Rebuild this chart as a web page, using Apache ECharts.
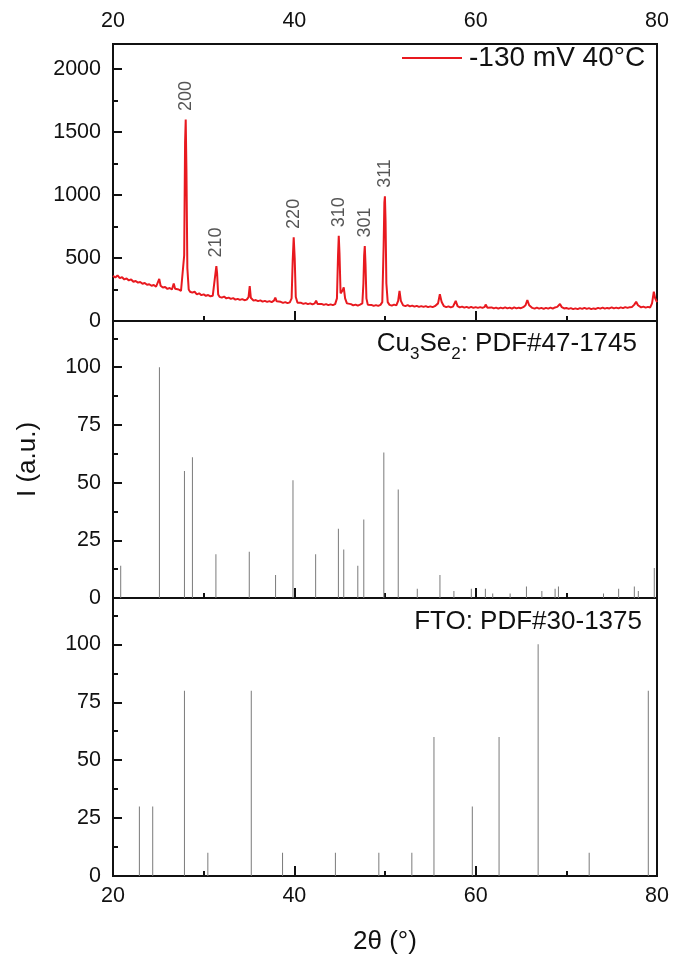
<!DOCTYPE html>
<html>
<head>
<meta charset="utf-8">
<script src="https://cdn.jsdelivr.net/npm/echarts@6/dist/echarts.min.js"></script>
<style>
  html, body { margin: 0; padding: 0; background: #fff; }
  #chart { width: 673px; height: 958px; }
</style>
</head>
<body>
<div id="chart"></div>
<script>
// Measured XRD scan of the film: [2θ (°), intensity (counts)]
const scanPattern = [
  [20.00,358],[20.25,345],[20.50,362],[20.75,340],[21.00,348],[21.25,330],[21.50,338],[21.75,322],
  [22.00,330],[22.25,312],[22.50,318],[22.75,305],[23.00,310],[23.25,296],[23.50,302],[23.75,288],
  [24.00,292],[24.25,280],[24.50,286],[24.75,272],[24.95,285],[25.10,335],[25.25,280],[25.50,266],
  [25.75,270],[26.00,255],[26.25,262],[26.50,250],[26.70,298],[26.85,256],[27.00,245],[27.25,250],
  [27.50,238],[27.70,242],[27.85,520],[27.95,1420],[28.02,1600],[28.10,1200],[28.20,420],[28.35,250],
  [28.50,232],[28.75,225],[29.00,232],[29.25,212],[29.50,220],[29.75,205],[30.00,212],[30.25,200],
  [30.50,206],[30.75,196],[31.00,200],[31.20,215],[31.32,390],[31.40,436],[31.48,380],[31.60,210],
  [31.75,192],[32.00,186],[32.25,194],[32.50,180],[32.75,186],[33.00,176],[33.25,182],[33.50,170],
  [33.75,176],[34.00,168],[34.25,174],[34.50,165],[34.75,170],[34.95,190],[35.08,278],[35.20,185],
  [35.50,162],[35.75,166],[36.00,158],[36.25,164],[36.50,154],[36.75,160],[37.00,152],[37.25,158],
  [37.50,150],[37.75,162],[37.90,185],[38.05,156],[38.25,148],[38.50,152],[38.75,144],[39.00,150],
  [39.25,142],[39.50,148],[39.70,180],[39.82,480],[39.93,664],[40.04,500],[40.16,190],[40.35,145],
  [40.50,138],[40.75,144],[41.00,136],[41.25,142],[41.50,134],[41.75,140],[42.00,132],[42.25,140],
  [42.40,162],[42.55,136],[42.75,130],[43.00,136],[43.25,128],[43.50,134],[43.75,126],[44.00,132],
  [44.25,126],[44.50,134],[44.70,180],[44.82,520],[44.90,677],[44.98,540],[45.10,220],[45.30,240],
  [45.45,268],[45.60,180],[45.80,140],[46.00,128],[46.25,134],[46.50,124],[46.75,130],[47.00,122],
  [47.25,130],[47.50,140],[47.62,300],[47.70,520],[47.77,595],[47.85,450],[47.95,180],[48.10,130],
  [48.25,122],[48.50,128],[48.75,120],[49.00,126],[49.25,120],[49.50,128],[49.70,150],[49.85,600],
  [49.93,940],[49.99,990],[50.06,800],[50.15,300],[50.30,150],[50.50,128],[50.75,122],[51.00,130],
  [51.25,124],[51.45,160],[51.60,240],[51.75,160],[52.00,124],[52.25,118],[52.50,126],[52.75,116],
  [53.00,122],[53.25,114],[53.50,120],[53.75,112],[54.00,118],[54.25,112],[54.50,118],[54.75,110],
  [55.00,116],[55.25,110],[55.50,118],[55.85,140],[56.05,212],[56.25,150],[56.50,118],[56.75,110],
  [57.00,116],[57.25,108],[57.50,114],[57.80,160],[58.00,118],[58.25,108],[58.50,114],[58.75,106],
  [59.00,112],[59.25,104],[59.50,112],[59.75,104],[60.00,110],[60.25,104],[60.50,110],[60.75,104],
  [61.00,112],[61.10,130],[61.30,106],[61.50,100],[61.75,108],[62.00,100],[62.25,106],[62.50,98],
  [62.75,106],[63.00,100],[63.25,108],[63.50,100],[63.75,106],[64.00,98],[64.25,108],[64.50,100],
  [64.75,106],[65.00,102],[65.25,110],[65.50,125],[65.70,167],[65.90,125],[66.25,104],[66.50,98],
  [66.75,106],[67.00,98],[67.25,104],[67.50,96],[67.75,104],[68.00,98],[68.25,106],[68.50,98],
  [68.75,108],[69.00,112],[69.30,135],[69.50,110],[69.75,100],[70.00,104],[70.25,96],[70.50,102],
  [70.75,94],[71.00,100],[71.25,94],[71.50,102],[71.75,96],[72.00,104],[72.25,96],[72.50,102],
  [72.75,94],[73.00,100],[73.25,96],[73.50,104],[73.75,98],[74.00,106],[74.25,98],[74.50,104],
  [74.75,100],[75.00,108],[75.25,100],[75.50,106],[75.75,100],[76.00,108],[76.25,102],[76.50,110],
  [76.75,104],[77.00,110],[77.25,112],[77.50,130],[77.70,153],[77.90,125],[78.25,108],[78.50,114],
  [78.75,106],[79.00,112],[79.25,108],[79.45,140],[79.65,233],[79.80,180],[80.00,150]
];

// Indexed reflections of the scan
const peakIndices = ['200', '210', '220', '310', '301', '311'];
const peakAngles  = [28.02, 31.40, 39.93, 44.90, 47.77, 49.99];
const peakCounts  = [1600, 436, 664, 677, 595, 990];

// Reference card Cu3Se2, PDF#47-1745: [2θ, relative intensity]
const cu3se2Card = [
  [20.85,14],[25.12,100],[27.88,55],[28.76,61],[31.35,19],[35.03,20],[37.93,10],[39.85,51],
  [42.35,19],[44.86,30],[45.45,21],[47.00,14],[47.66,34],[49.87,63],[51.46,47],[53.56,4],
  [56.06,10],[57.60,3],[59.52,4],[61.07,4],[61.88,2],[63.80,2],[65.60,5],[67.30,3],
  [68.76,4],[69.13,5],[74.10,2],[75.77,4],[77.50,5],[77.94,3],[79.70,13]
];

// Reference card FTO (SnO2), PDF#30-1375: [2θ, relative intensity]
const ftoCard = [
  [22.91,30],[24.38,30],[27.88,80],[30.46,10],[35.25,80],[38.70,10],[44.53,10],[49.32,10],
  [52.96,10],[55.40,60],[59.63,30],[62.58,60],[66.89,100],[72.52,10],[79.04,80]
];

// Axis tick values
const angleTicks = { min: 20, max: 80, step: 20 };
const countTicks = { min: 0, max: 2200, step: 500, minorStep: 250 };
const relTicks   = { min: 0, max: 120, step: 25, minorStep: 12.5 };

const FONT = 'Liberation Sans, Arial, Helvetica, sans-serif';
const INK = '#111';
const RED = '#e8191f';
const STICK = '#7a7a7a';
const plain = v => String(v);

const chart = echarts.init(document.getElementById('chart'), null, { renderer: 'canvas' });

const panelTops = [44, 321, 598];
const panelHeights = [277, 277, 278];

function frameGrid(i) {
  return { left: 113, right: 16, top: panelTops[i], height: panelHeights[i],
           show: true, borderColor: INK, borderWidth: 2, backgroundColor: 'transparent' };
}

function bottomAngleAxis(gridIndex, showLabels) {
  return {
    type: 'value', gridIndex, position: 'bottom',
    min: angleTicks.min, max: angleTicks.max, interval: angleTicks.step,
    axisLine: { show: true, lineStyle: { color: INK, width: 2 } },
    axisTick: { show: true, inside: true, length: 10, lineStyle: { color: INK, width: 2 } },
    minorTick: { show: true, splitNumber: 2, length: 5, lineStyle: { color: INK, width: 2 } },
    axisLabel: { show: showLabels, fontSize: 21.5, fontFamily: FONT, color: INK, margin: 9, formatter: plain },
    splitLine: { show: false }
  };
}

function majorAxis(gridIndex, t) {
  return {
    type: 'value', gridIndex, position: 'left',
    min: t.min, max: t.max, interval: t.step,
    axisLine: { show: true, lineStyle: { color: INK, width: 2 } },
    axisTick: { show: true, inside: true, length: 9, lineStyle: { color: INK, width: 2 } },
    axisLabel: { show: true, fontSize: 21.5, fontFamily: FONT, color: INK, margin: 12,
                 showMaxLabel: false, formatter: plain },
    splitLine: { show: false }
  };
}

function minorAxis(gridIndex, t) {
  return {
    type: 'value', gridIndex, position: 'left',
    min: t.min, max: t.max, interval: t.minorStep,
    axisLine: { show: false },
    axisTick: { show: true, inside: true, length: 5, lineStyle: { color: INK, width: 2 } },
    axisLabel: { show: false },
    splitLine: { show: false }
  };
}

const option = {
  animation: false,
  backgroundColor: '#fff',
  grid: [frameGrid(0), frameGrid(1), frameGrid(2)],
  xAxis: [
    bottomAngleAxis(0, false),
    {
      type: 'value', gridIndex: 0, position: 'top',
      min: angleTicks.min, max: angleTicks.max, interval: angleTicks.step,
      axisLine: { show: true, lineStyle: { color: INK, width: 2 } },
      axisTick: { show: false },
      axisLabel: { show: true, fontSize: 21.5, fontFamily: FONT, color: INK, margin: 12, formatter: plain },
      splitLine: { show: false }
    },
    bottomAngleAxis(1, false),
    Object.assign(bottomAngleAxis(2, true), {
      name: '2θ (°)', nameLocation: 'middle', nameGap: 53,
      nameTextStyle: { fontSize: 26, fontFamily: FONT, color: INK }
    })
  ],
  yAxis: [
    majorAxis(0, countTicks),
    minorAxis(0, countTicks),
    Object.assign(majorAxis(1, relTicks), {
      name: 'I (a.u.)', nameLocation: 'middle', nameGap: 72,
      nameTextStyle: { fontSize: 26, fontFamily: FONT, color: INK }
    }),
    minorAxis(1, relTicks),
    majorAxis(2, relTicks),
    minorAxis(2, relTicks)
  ],
  legend: {
    left: 402, top: 44, padding: 0,
    icon: 'rect', itemWidth: 60, itemHeight: 2, itemGap: 0,
    textStyle: { fontSize: 28, fontFamily: FONT, color: INK, padding: [0, 0, 0, 0] },
    data: ['-130 mV 40°C']
  },
  graphic: [
    {
      type: 'text', right: 36, top: 331,
      style: {
        text: '{a|Cu}{s|3}{a|Se}{s|2}{a|: PDF#47-1745}',
        fill: INK,
        rich: {
          a: { fontSize: 26, fontFamily: FONT, fill: INK, color: INK },
          s: { fontSize: 17, fontFamily: FONT, fill: INK, color: INK, padding: [20, 0, 0, 0] }
        }
      }
    },
    {
      type: 'text', right: 31, top: 609,
      style: { text: 'FTO: PDF#30-1375', fontSize: 26, fontFamily: FONT, fill: INK }
    }
  ],
  series: [
    {
      name: '-130 mV 40°C', type: 'line', xAxisIndex: 0, yAxisIndex: 0,
      data: scanPattern, showSymbol: false, symbol: 'none',
      lineStyle: { color: RED, width: 2 }, itemStyle: { color: RED },
      z: 3
    },
    {
      type: 'scatter', xAxisIndex: 0, yAxisIndex: 0,
      symbolSize: 1, itemStyle: { color: 'rgba(0,0,0,0)' }, silent: true,
      data: peakIndices.map((h, i) => ({ name: h, value: [peakAngles[i], peakCounts[i]] })),
      label: {
        show: true, position: 'top', distance: 8, rotate: 90,
        align: 'left', verticalAlign: 'middle',
        formatter: p => p.name,
        fontSize: 18, fontFamily: FONT, color: '#2a2a2a'
      },
      z: 4
    },
    {
      type: 'bar', xAxisIndex: 2, yAxisIndex: 2,
      data: cu3se2Card, barWidth: 1,
      itemStyle: { color: STICK }, silent: true
    },
    {
      type: 'bar', xAxisIndex: 3, yAxisIndex: 4,
      data: ftoCard, barWidth: 1,
      itemStyle: { color: STICK }, silent: true
    }
  ]
};

chart.setOption(option);

// keep a small gap between the legend swatch and its text
const legendGap = 2;
chart.setOption({ legend: { textStyle: { padding: [0, 0, 0, legendGap] } } });
</script>
</body>
</html>
